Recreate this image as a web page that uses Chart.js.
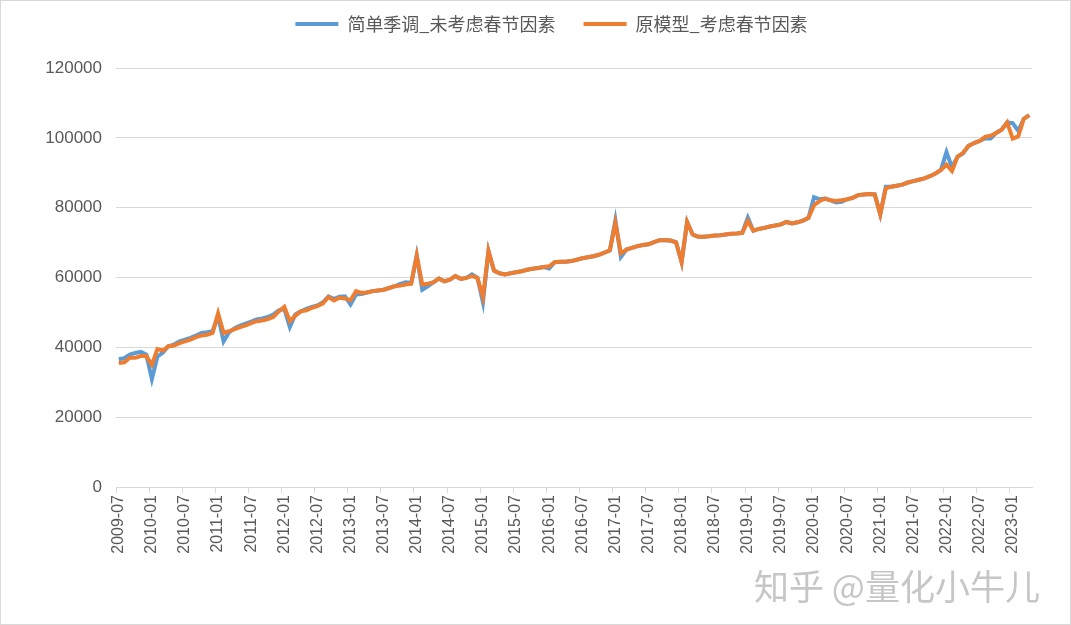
<!DOCTYPE html>
<html lang="zh">
<head>
    <meta charset="UTF-8">
    <title>季调对比</title>
    <script src="https://cdn.jsdelivr.net/npm/chart.js"></script>
    <style>
        html, body { margin: 0; padding: 0; background: #fff; }
        #wrap {
            position: relative;
            width: 1071px;
            height: 625px;
            box-sizing: border-box;
            border: 1px solid #d9d9d9;
            overflow: hidden;
        }
        #chart { position: absolute; left: 0; top: 0; }
        #mark {
            position: absolute;
            left: 753px;
            top: 558px;
            font-family: "Noto Sans CJK SC", sans-serif;
            font-size: 35px;
            color: rgba(120, 120, 120, 0.42);
            white-space: nowrap;
        }
    </style>
</head>
<body>
<div id="wrap">
    <canvas id="chart" width="1069" height="623"></canvas>
    <div id="mark">知乎 @量化小牛儿</div>
</div>

<script>
    // monthly categories 2009-07 .. 2023-04
    const startYear = 2009, startMonth = 7, monthCount = 166;
    const months = [];
    for (let i = 0; i < monthCount; i++) {
        const m = startMonth - 1 + i;
        const y = startYear + Math.floor(m / 12);
        const mm = (m % 12) + 1;
        months.push(y + '-' + (mm < 10 ? '0' + mm : mm));
    }

    const seriesNames = ['简单季调_未考虑春节因素', '原模型_考虑春节因素'];

    const simpleSA = [
        36600, 36900, 37900, 38400, 38700, 37900, 30900, 37300, 38500, 40300,
        40800, 41700, 42200, 42700, 43400, 44100, 44300, 44600, 48900, 41700,
        44300, 45500, 46200, 46800, 47400, 48000, 48300, 48700, 49400, 50600,
        51000, 45800, 49400, 50300, 51000, 51600, 52000, 52900, 54600, 53900,
        54500, 54600, 52300, 55100, 55300, 55700, 56100, 56300, 56500, 57000,
        57500, 58200, 58600, 58400, 66300, 56500, 57500, 58600, 59700, 58900,
        59400, 60400, 59600, 59900, 60900, 59900, 52900, 67600, 62000, 61200,
        60900, 61200, 61500, 61800, 62200, 62500, 62700, 63000, 62600, 64400,
        64500, 64500, 64700, 65100, 65500, 65800, 66100, 66500, 67100, 67800,
        76400, 65900, 68000, 68500, 69000, 69300, 69500, 70100, 70700, 70700,
        70600, 70100, 64400, 75900, 72300, 71700, 71700, 71800, 72000, 72100,
        72300, 72500, 72600, 72800, 77100, 73400, 73900, 74200, 74600, 74900,
        75200, 75900, 75500, 75800, 76300, 77100, 83000, 82400, 82600, 82100,
        81500, 81700, 82400, 82800, 83600, 83800, 83900, 83800, 78100, 86000,
        86000, 86300, 86600, 87200, 87600, 88000, 88400, 89000, 89800, 90800,
        95900, 91500, 94600, 95500, 97700, 98500, 99100, 99800, 99800, 101400,
        102300, 104400, 104200, 102000, 105400, 106500
    ];

    const springModel = [
        35500, 35700, 37000, 37000, 37500, 37500, 35000, 39500, 39100, 40300,
        40500, 41200, 41700, 42200, 42900, 43400, 43600, 44100, 49700, 44100,
        44600, 45200, 45800, 46300, 46900, 47500, 47700, 48100, 48700, 50300,
        51600, 47500, 49100, 50300, 50600, 51300, 51800, 52600, 54400, 53400,
        54200, 54000, 53500, 56100, 55600, 55700, 56100, 56300, 56500, 57000,
        57500, 57700, 58000, 58200, 66300, 58000, 58200, 58600, 59700, 58900,
        59400, 60400, 59600, 59900, 60400, 59900, 54400, 67600, 62000, 61200,
        60900, 61200, 61500, 61800, 62200, 62500, 62700, 63000, 63200, 64400,
        64500, 64500, 64700, 65100, 65500, 65800, 66100, 66500, 67100, 67800,
        75600, 66900, 68000, 68500, 69000, 69300, 69500, 70100, 70700, 70700,
        70600, 70100, 64400, 75900, 72300, 71700, 71700, 71800, 72000, 72100,
        72300, 72500, 72600, 72800, 76200, 73400, 73900, 74200, 74600, 74900,
        75200, 75900, 75500, 75800, 76300, 77100, 80700, 81900, 82600, 82100,
        81900, 82100, 82400, 82800, 83600, 83800, 83900, 83800, 78100, 85500,
        86000, 86300, 86600, 87200, 87600, 88000, 88400, 89000, 89800, 90800,
        92300, 90500, 94600, 95700, 97700, 98500, 99100, 100300, 100600, 101400,
        102300, 104400, 99800, 100400, 105400, 106500
    ];

    const yTicks = [0, 20000, 40000, 60000, 80000, 100000, 120000];

    // push the plot area down below the legend, nudge legend right like the original
    const legendSpacer = {
        id: 'legendSpacer',
        beforeInit(chart) {
            const fit = chart.legend.fit;
            chart.legend.fit = function () {
                fit.bind(chart.legend)();
                this.height += 25;
            };
        },
        afterLayout(chart) {
            chart.legend.left += 35;
            chart.legend.right += 35;
        }
    };

    new Chart(document.getElementById('chart'), {
        type: 'line',
        data: {
            labels: months,
            datasets: [
                {
                    label: seriesNames[0],
                    data: simpleSA,
                    borderColor: '#5B9BD5',
                    backgroundColor: '#5B9BD5',
                    borderWidth: 4,
                    pointRadius: 0,
                    tension: 0,
                    order: 2
                },
                {
                    label: seriesNames[1],
                    data: springModel,
                    borderColor: '#ED7D31',
                    backgroundColor: '#ED7D31',
                    borderWidth: 4,
                    pointRadius: 0,
                    tension: 0,
                    order: 1
                }
            ]
        },
        options: {
            responsive: false,
            animation: false,
            layout: { padding: { left: 0, right: 38, top: 2, bottom: 0 } },
            plugins: {
                tooltip: { enabled: false },
                legend: {
                    position: 'top',
                    labels: {
                        boxWidth: 43,
                        boxHeight: 4,
                        padding: 12,
                        color: '#595959',
                        font: { family: '"Noto Sans CJK SC", sans-serif', size: 18 },
                        generateLabels(chart) {
                            return chart.data.datasets.map((ds, i) => ({
                                text: i === 0 ? ds.label + '    ' : ds.label,
                                fillStyle: ds.borderColor,
                                strokeStyle: ds.borderColor,
                                lineWidth: 0,
                                hidden: false,
                                datasetIndex: i,
                                fontColor: '#595959'
                            }));
                        }
                    }
                }
            },
            scales: {
                x: {
                    offset: true,
                    border: { color: '#d9d9d9', width: 1 },
                    grid: {
                        offset: true,
                        drawOnChartArea: false,
                        drawTicks: true,
                        tickLength: 6,
                        color: ctx => (ctx.index % 6 === 0 ? '#d9d9d9' : 'rgba(0,0,0,0)')
                    },
                    ticks: {
                        autoSkip: false,
                        minRotation: 90,
                        maxRotation: 90,
                        padding: 2,
                        color: '#595959',
                        font: { family: '"Liberation Sans", sans-serif', size: 16 },
                        callback: function (val, idx) {
                            return idx % 6 === 0 ? this.getLabelForValue(val) : '';
                        }
                    },
                    afterFit(scale) { scale.height = 137; }
                },
                y: {
                    min: 0,
                    max: 120000,
                    border: { display: false },
                    grid: { color: '#d9d9d9', drawTicks: false },
                    afterBuildTicks(scale) { scale.ticks = yTicks.map(v => ({ value: v })); },
                    ticks: {
                        padding: 14,
                        color: '#595959',
                        font: { family: '"Liberation Sans", sans-serif', size: 17 },
                        callback: v => String(v)
                    },
                    afterFit(scale) { scale.width = 115; }
                }
            }
        },
        plugins: [legendSpacer]
    });
</script>
</body>
</html>
